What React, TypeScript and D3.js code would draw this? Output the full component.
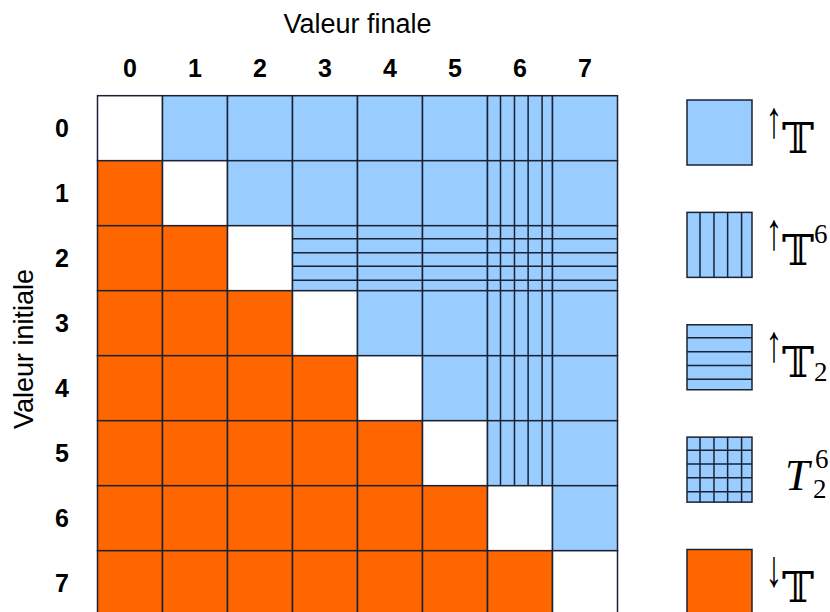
import React from "react";
import * as d3 from "d3";

const colLabels = ["0", "1", "2", "3", "4", "5", "6", "7"];
const rowLabels = ["0", "1", "2", "3", "4", "5", "6", "7"];
// W = white (diagonal), B = ↑T, V = ↑T^6, H = ↑T_2, G = T_2^6, O = ↓T
const cellKinds = [
  "WBBBBBVB",
  "OWBBBBVB",
  "OOWHHHGH",
  "OOOWBBVB",
  "OOOOWBVB",
  "OOOOOWVB",
  "OOOOOOWB",
  "OOOOOOOW",
];
const legendKinds = ["B", "V", "H", "G", "O"];
const xTitle = "Valeur finale";
const yTitle = "Valeur initiale";

const BLUE = "#99ccff";
const ORANGE = "#ff6600";
const LINE = "#1a2233";
const hatch = [0.2, 0.415, 0.625, 0.84];

function fillOf(k: string) {
  if (k === "W") return "#ffffff";
  if (k === "O") return ORANGE;
  return BLUE;
}

function Cell({ x, y, w, h, k }: { x: number; y: number; w: number; h: number; k: string }) {
  const vert = k === "V" || k === "G";
  const hor = k === "H" || k === "G";
  return (
    <g>
      <rect x={x} y={y} width={w} height={h} fill={fillOf(k)} stroke={LINE} strokeWidth={1.5} />
      {vert &&
        hatch.map((f, i) => (
          <line key={"v" + i} x1={x + f * w} x2={x + f * w} y1={y} y2={y + h} stroke={LINE} strokeWidth={1.5} />
        ))}
      {hor &&
        hatch.map((f, i) => (
          <line key={"h" + i} x1={x} x2={x + w} y1={y + f * h} y2={y + f * h} stroke={LINE} strokeWidth={1.5} />
        ))}
    </g>
  );
}

function LegendLabel({ k, x, cy }: { k: string; x: number; cy: number }) {
  const base = cy + 20;
  const serif = "'DejaVu Serif', 'Liberation Serif', serif";
  const arrowFont = "'Liberation Serif', 'DejaVu Serif', serif";
  if (k === "G") {
    return (
      <g>
        <text x={x + 12} y={base} fontFamily="'Liberation Serif', serif" fontStyle="italic" fontSize={44} fill="#000">T</text>
        <text x={x + 42} y={base - 22} fontFamily="'Liberation Serif', serif" fontSize={27} fill="#000">6</text>
        <text x={x + 40} y={base + 8} fontFamily="'Liberation Serif', serif" fontSize={27} fill="#000">2</text>
      </g>
    );
  }
  const arrow = k === "O" ? "↓" : "↑";
  return (
    <g>
      <text
        transform={`translate(${x + 1}, ${cy + 4}) scale(0.65, 1)`}
        textAnchor="middle"
        fontFamily={arrowFont}
        fontSize={52}
        fill="#000"
      >
        {arrow}
      </text>
      <text x={x + 9} y={base} fontFamily={serif} fontSize={43} fill="#000">𝕋</text>
      {k === "V" && (
        <text x={x + 41} y={base - 22} fontFamily="'Liberation Serif', serif" fontSize={27} fill="#000">6</text>
      )}
      {k === "H" && (
        <text x={x + 41} y={base + 4} fontFamily="'Liberation Serif', serif" fontSize={27} fill="#000">2</text>
      )}
    </g>
  );
}

export default function App() {
  const W = 830;
  const H = 612;
  const x = d3.scaleBand<string>().domain(colLabels).range([97.5, 617.5]).padding(0);
  const y = d3.scaleBand<string>().domain(rowLabels).range([95.7, 615.7]).padding(0);
  const bw = x.bandwidth();
  const bh = y.bandwidth();
  const ly = d3.scaleLinear().domain([0, legendKinds.length - 1]).range([100, 549.5]);
  const legendX = 687;
  const legendSize = 65;
  const sans = "'Liberation Sans', Arial, sans-serif";

  return (
    <svg width={W} height={H} style={{ position: "absolute", left: 0, top: 0, background: "#fff" }}>
      <rect x={0} y={0} width={W} height={H} fill="#fff" />
      <text x={(97.5 + 617.5) / 2} y={33} textAnchor="middle" fontFamily={sans} fontSize={27} fill="#000">
        {xTitle}
      </text>
      <text
        transform={`translate(33, 349) rotate(-90)`}
        textAnchor="middle"
        fontFamily={sans}
        fontSize={27}
        fill="#000"
      >
        {yTitle}
      </text>
      {colLabels.map((c) => (
        <text key={"c" + c} x={(x(c) as number) + bw / 2} y={77} textAnchor="middle" fontFamily={sans} fontWeight="bold" fontSize={25} fill="#000">
          {c}
        </text>
      ))}
      {rowLabels.map((r) => (
        <text key={"r" + r} x={62} y={(y(r) as number) + bh / 2} dy="0.36em" textAnchor="middle" fontFamily={sans} fontWeight="bold" fontSize={25} fill="#000">
          {r}
        </text>
      ))}
      {rowLabels.map((r, i) =>
        colLabels.map((c, j) => (
          <Cell key={r + "-" + c} x={x(c) as number} y={y(r) as number} w={bw} h={bh} k={cellKinds[i][j]} />
        ))
      )}
      {legendKinds.map((k, i) => (
        <g key={"l" + k}>
          <Cell x={legendX} y={ly(i)} w={legendSize} h={legendSize} k={k} />
          <LegendLabel k={k} x={773} cy={ly(i) + legendSize / 2} />
        </g>
      ))}
    </svg>
  );
}
